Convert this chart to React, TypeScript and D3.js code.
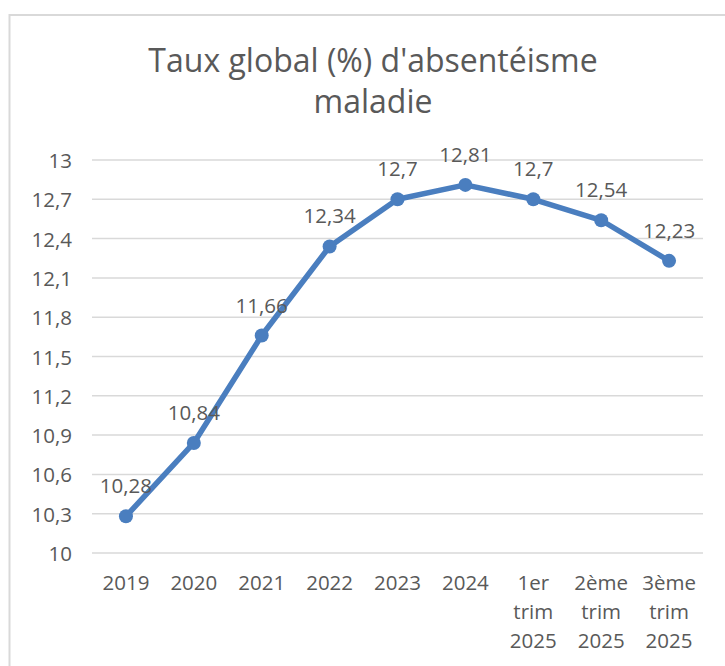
import React from "react";
import * as d3 from "d3";

const categories: string[][] = [
  ["2019"], ["2020"], ["2021"], ["2022"], ["2023"], ["2024"],
  ["1er", "trim", "2025"], ["2ème", "trim", "2025"], ["3ème", "trim", "2025"],
];
const values: number[] = [10.28, 10.84, 11.66, 12.34, 12.7, 12.81, 12.7, 12.54, 12.23];
const yTicks: number[] = [10, 10.3, 10.6, 10.9, 11.2, 11.5, 11.8, 12.1, 12.4, 12.7, 13];
const titleLines: string[] = ["Taux global (%) d'absentéisme", "maladie"];

const fmt = (v: number) => String(v).replace(".", ",");

export default function App() {
  const W = 725, H = 666;
  const font = "'Open Sans', sans-serif";
  const textColor = "#595959";
  const keys = categories.map((c) => c.join(" "));
  const x = d3.scalePoint<string>().domain(keys).range([92, 703]).padding(0.5);
  const y = d3.scaleLinear().domain([10, 13]).range([553, 160]);
  const line = d3
    .line<number>()
    .x((_, i) => x(keys[i]) as number)
    .y((d) => y(d))
    .curve(d3.curveLinear);

  return (
    <svg width={W} height={H} style={{ position: "absolute", left: 0, top: 0 }}>
      <rect x={0} y={0} width={W} height={H} fill="#fff" />
      <rect x={9.5} y={15} width={740} height={700} fill="#fff" stroke="#d9d9d9" strokeWidth={2} />
      {titleLines.map((t, i) => (
        <text key={t} x={373} y={72 + i * 41} textAnchor="middle" fontFamily={font} fontSize={32} fill={textColor}>
          {t}
        </text>
      ))}
      {yTicks.map((t) => (
        <g key={t}>
          <line x1={92} x2={703} y1={y(t)} y2={y(t)} stroke="#d9d9d9" strokeWidth={1.5} />
          <text x={72} y={y(t)} textAnchor="end" dominantBaseline="central" fontFamily={font} fontSize={20.5} fill={textColor}>
            {fmt(t)}
          </text>
        </g>
      ))}
      {categories.map((c, i) =>
        c.map((s, j) => (
          <text key={i + "-" + j} x={x(keys[i]) as number} y={582 + j * 29} textAnchor="middle" dominantBaseline="central" fontFamily={font} fontSize={20.5} fill={textColor}>
            {s}
          </text>
        ))
      )}
      <path d={line(values) || ""} fill="none" stroke="#4a7ebf" strokeWidth={5.5} strokeLinejoin="round" strokeLinecap="round" />
      {values.map((v, i) => (
        <circle key={i} cx={x(keys[i]) as number} cy={y(v)} r={7} fill="#4a7ebf" />
      ))}
      {values.map((v, i) => (
        <text key={"l" + i} x={x(keys[i]) as number} y={y(v) - 31} textAnchor="middle" dominantBaseline="central" fontFamily={font} fontSize={20.5} fill={textColor}>
          {fmt(v)}
        </text>
      ))}
    </svg>
  );
}
